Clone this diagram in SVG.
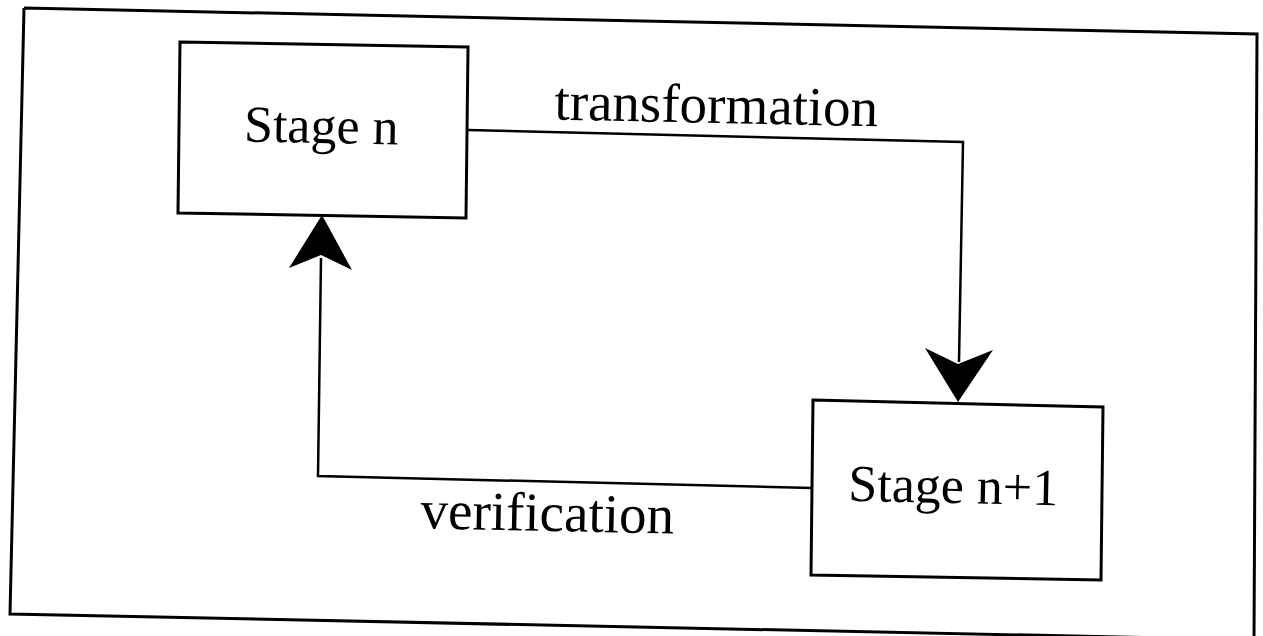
<svg xmlns="http://www.w3.org/2000/svg" width="1263" height="636" viewBox="0 0 1263 636">
<style>
.frame{fill:none;stroke:#000;stroke-width:3}
.box{fill:#fff;stroke:#000;stroke-width:3}
.conn{fill:none;stroke:#000;stroke-width:2.5}
.head{fill:#000;stroke:none}
text{font-family:"Liberation Serif","Times New Roman",serif;fill:#000;font-size:52px}
.lbl{font-size:55px}
</style>
<rect width="1263" height="636" fill="#fff"/>
<path class="frame" d="M24,8 L1257,34 L1254,640 M24,8 L10,614 L1263,640"/>
<g id="connectors">
<path class="conn" d="M468,130 L963,142 L959,362"/>
<path class="head" d="M958,402 L925,348 L958,364 L993,350 Z"/>
<path class="conn" d="M812,488 L318,476 L321,258"/>
<path class="head" d="M322,215 L289,268 L321,255 L352,270 Z"/>
</g>
<g id="stage-n">
<path class="box" d="M180,42 L468,47 L466,218 L178,213 Z"/>
<text x="321" y="143" text-anchor="middle" transform="rotate(1.2 321 143)">Stage n</text>
</g>
<g id="stage-n1">
<path class="box" d="M813,400 L1103,407 L1101,580 L811,575 Z"/>
<text x="953" y="503" text-anchor="middle" transform="rotate(1.2 953 503)">Stage n+1</text>
</g>
<g id="labels">
<text class="lbl" x="716" y="123" text-anchor="middle" transform="rotate(1.2 716 123)">transformation</text>
<text class="lbl" x="547" y="531" text-anchor="middle" transform="rotate(1.2 547 531)">verification</text>
</g>
</svg>
